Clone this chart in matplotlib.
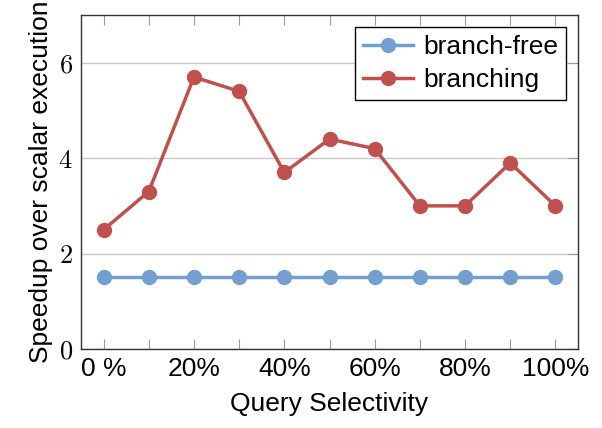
import numpy as np
import matplotlib.pyplot as plt
from matplotlib.ticker import FuncFormatter

plt.rcParams['font.family'] = ['Liberation Sans', 'DejaVu Sans']
plt.rcParams['mathtext.fontset'] = 'cm'

# selectivity in percent
selectivity = [0, 10, 20, 30, 40, 50, 60, 70, 80, 90, 100]
branch_free = [1.5, 1.5, 1.5, 1.5, 1.5, 1.5, 1.5, 1.5, 1.5, 1.5, 1.5]
branching = [2.5, 3.3, 5.7, 5.4, 3.7, 4.4, 4.2, 3.0, 3.0, 3.9, 3.0]
xlabels = ["0 %", "", "20%", "", "40%", "", "60%", "", "80%", "", "100%"]

blue = "#729fcf"
red = "#c0504d"

fig = plt.figure(figsize=(6.02, 4.28), dpi=100)
ax = fig.add_axes([81 / 602, 1 - 349 / 428, 497 / 602, 334 / 428])

ax.plot(selectivity, branch_free, color=blue, lw=2.5, marker="o", ms=10,
        label="branch-free", zorder=3)
ax.plot(selectivity, branching, color=red, lw=2.5, marker="o", ms=10,
        label="branching", zorder=3)

ax.set_xlim(-5, 105)
ax.set_ylim(0, 7)

ax.set_xticks(selectivity)
ax.set_xticklabels(xlabels)
ax.set_yticks([0, 2, 4, 6])
ax.yaxis.set_major_formatter(FuncFormatter(lambda v, p: r"$%d$" % v))

ax.grid(axis="y", color="#c8c8c8", lw=1)
ax.set_axisbelow(True)
ax.tick_params(axis="x", direction="in", top=True, length=7, width=0.8,
               color="#999999", labelsize=19, pad=6)
ax.tick_params(axis="y", direction="in", left=False, right=True, length=7,
               width=0.8, color="#999999", labelsize=19, pad=6)
for s in ax.spines.values():
    s.set_linewidth(1.0)
    s.set_color("#333333")

ax.set_xlabel("Query Selectivity", fontsize=19, labelpad=8)
ax.set_ylabel("Speedup over scalar execution", fontsize=19, labelpad=4)

leg = ax.legend(loc="upper right", fontsize=19, fancybox=False, framealpha=1,
                edgecolor="black", borderaxespad=0.45, handlelength=1.9,
                handletextpad=0.4, borderpad=0.3, labelspacing=0.35)
leg.get_frame().set_linewidth(1.0)

fig.savefig("out.png", dpi=100)
